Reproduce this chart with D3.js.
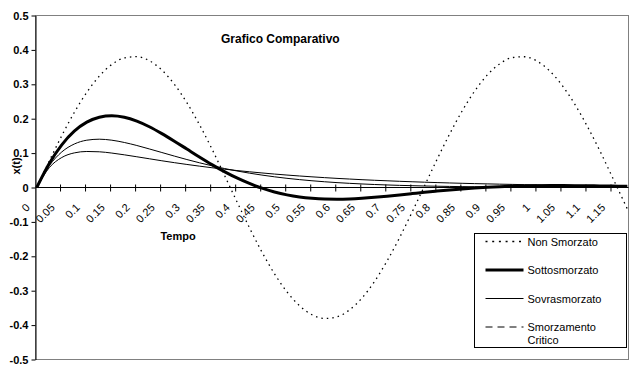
<!DOCTYPE html>
<html>
<head>
<meta charset="utf-8">
<script src="https://cdn.jsdelivr.net/npm/d3@7"></script>
<style>
  body { margin: 0; background: #fff; }
  text { font-family: Arial, "Liberation Sans", sans-serif; }
</style>
</head>
<body>
<div id="chart"></div>
<script>
/* DATA */
const tempo = [0, 0.025, 0.05, 0.075, 0.1, 0.125, 0.15, 0.175, 0.2, 0.225, 0.25, 0.275,
  0.3, 0.325, 0.35, 0.375, 0.4, 0.425, 0.45, 0.475, 0.5, 0.525, 0.55, 0.575,
  0.6, 0.625, 0.65, 0.675, 0.7, 0.725, 0.75, 0.775, 0.8, 0.825, 0.85, 0.875,
  0.9, 0.925, 0.95, 0.975, 1, 1.025, 1.05, 1.075, 1.1, 1.125, 1.15, 1.175, 1.18];

const nonSmorzato = [0, 0.0769, 0.1506, 0.2181, 0.2766, 0.3238, 0.3577, 0.3768, 0.3804, 0.3685,
  0.3414, 0.3000, 0.2465, 0.1830, 0.1123, 0.0360, -0.0412, -0.1168, -0.1876, -0.2506,
  -0.3033, -0.3437, -0.3698, -0.3807, -0.3759, -0.3557, -0.3211, -0.2730, -0.2137, -0.1458,
  -0.0717, 0.0052, 0.0820, 0.1553, 0.2223, 0.2802, 0.3266, 0.3595, 0.3776, 0.3801,
  0.3672, 0.3389, 0.2967, 0.2425, 0.1783, 0.1074, 0.0308, -0.0464, -0.0620];

const sottosmorzato = [0, 0.0697, 0.1239, 0.1636, 0.1899, 0.2043, 0.2085, 0.2041, 0.1929, 0.1766,
  0.1567, 0.1347, 0.1117, 0.0887, 0.0666, 0.0462, 0.0277, 0.0117, -0.0019, -0.0129,
  -0.0214, -0.0275, -0.0314, -0.0335, -0.0339, -0.0331, -0.0311, -0.0284, -0.0251, -0.0215,
  -0.0177, -0.0139, -0.0104, -0.0071, -0.0041, -0.0015, 0.0006, 0.0023, 0.0037, 0.0046,
  0.0050, 0.0055, 0.0055, 0.0054, 0.0050, 0.0046, 0.0040, 0.0034, 0.0033];

const sovrasmorzato = [0, 0.0576, 0.0872, 0.1006, 0.1047, 0.1038, 0.1001, 0.0950, 0.0893, 0.0835,
  0.0777, 0.0722, 0.0670, 0.0621, 0.0575, 0.0533, 0.0493, 0.0457, 0.0423, 0.0391,
  0.0362, 0.0335, 0.0310, 0.0287, 0.0265, 0.0246, 0.0227, 0.0210, 0.0195, 0.0180,
  0.0167, 0.0154, 0.0143, 0.0132, 0.0122, 0.0113, 0.0105, 0.0097, 0.0090, 0.0083,
  0.0077, 0.0071, 0.0066, 0.0061, 0.0056, 0.0052, 0.0048, 0.0045, 0.0044];

const smorzamentoCritico = [0, 0.0633, 0.1033, 0.1264, 0.1375, 0.1404, 0.1375, 0.1309, 0.1221, 0.1121,
  0.1017, 0.0913, 0.0813, 0.0719, 0.0632, 0.0552, 0.0481, 0.0417, 0.0361, 0.0311,
  0.0267, 0.0229, 0.0196, 0.0167, 0.0142, 0.0121, 0.0103, 0.0087, 0.0074, 0.0062,
  0.0053, 0.0044, 0.0037, 0.0031, 0.0026, 0.0022, 0.0019, 0.0016, 0.0013, 0.0011,
  0.0009, 0.0008, 0.0006, 0.0005, 0.0004, 0.0003, 0.0003, 0.0002, 0.0002];

const xLabels = ["0", "0.05", "0.1", "0.15", "0.2", "0.25", "0.3", "0.35", "0.4", "0.45", "0.5",
  "0.55", "0.6", "0.65", "0.7", "0.75", "0.8", "0.85", "0.9", "0.95", "1", "1.05", "1.1", "1.15"];
const yTicks = [0.5, 0.4, 0.3, 0.2, 0.1, 0, -0.1, -0.2, -0.3, -0.4, -0.5];

const seriesNames = ["Non Smorzato", "Sottosmorzato", "Sovrasmorzato", "Smorzamento Critico"];

/* CONSTANTS */
const width = 634, height = 374;
const plot = { left: 35.5, right: 628.5, top: 15.5, bottom: 359.5 };

const svg = d3.select("#chart").append("svg")
  .attr("width", width)
  .attr("height", height);

// scales (category axis: each category is 0.005 wide, points sit in the middle)
const xScale = d3.scaleLinear()
  .domain([-0.0025, 1.1825])
  .range([plot.left, plot.right]);

const yScale = d3.scaleLinear()
  .domain([-0.5, 0.5])
  .range([plot.bottom, plot.top]);

// plot area frame (grey top/right/bottom)
svg.append("rect")
  .attr("x", plot.left)
  .attr("y", plot.top)
  .attr("width", plot.right - plot.left)
  .attr("height", plot.bottom - plot.top)
  .attr("fill", "#fff")
  .attr("stroke", "#808080");

// title
svg.append("text")
  .attr("x", 221)
  .attr("y", 43)
  .attr("font-size", 12)
  .attr("font-weight", "bold")
  .text("Grafico Comparativo");

// y axis
const yAxis = d3.axisLeft(yScale)
  .tickValues(yTicks)
  .tickSize(4)
  .tickSizeOuter(0)
  .tickPadding(3)
  .tickFormat(d => String(+d.toFixed(1)));

svg.append("g")
  .attr("class", "axis y-axis")
  .attr("transform", `translate(${plot.left},0)`)
  .call(yAxis)
  .call(g => g.selectAll("text")
    .attr("font-size", 11)
    .attr("font-weight", "bold")
    .attr("font-family", "Arial, 'Liberation Sans', sans-serif")
    .attr("fill", "#000"))
  .call(g => g.selectAll("line,path").attr("stroke", "#000"));

// y label
svg.append("text")
  .attr("transform", `translate(20,166) rotate(-90)`)
  .attr("text-anchor", "middle")
  .attr("font-size", 11)
  .attr("font-weight", "bold")
  .text("x(t)");

// x axis line at 0
const y0 = yScale(0);
svg.append("line")
  .attr("x1", plot.left).attr("x2", plot.right)
  .attr("y1", y0).attr("y2", y0)
  .attr("stroke", "#000");

// tick marks on category boundaries, every 10 categories
svg.append("g")
  .selectAll("line")
  .data(d3.range(1, 24))
  .join("line")
  .attr("x1", k => xScale(0.05 * k - 0.0025))
  .attr("x2", k => xScale(0.05 * k - 0.0025))
  .attr("y1", y0 - 3)
  .attr("y2", y0 + 4)
  .attr("stroke", "#000");

// rotated category labels
svg.append("g")
  .selectAll("text")
  .data(xLabels)
  .join("text")
  .attr("transform", (d, i) => `translate(${xScale(0.05 * i) - 9},${y0 + 18}) rotate(-45)`)
  .attr("text-anchor", "end")
  .attr("dy", "0.35em")
  .attr("font-size", 11)
  .text(d => d);

// x label
svg.append("text")
  .attr("x", 178)
  .attr("y", 240)
  .attr("text-anchor", "middle")
  .attr("font-size", 11)
  .attr("font-weight", "bold")
  .text("Tempo");

/* LINES */
const lineFunc = d3.line()
  .x((d, i) => xScale(tempo[i]))
  .y(d => yScale(d))
  .curve(d3.curveMonotoneX);

const styles = [
  { data: nonSmorzato, width: 1.3, dash: "1.5,4" },
  { data: sottosmorzato, width: 3, dash: null },
  { data: sovrasmorzato, width: 1, dash: null },
  { data: smorzamentoCritico, width: 1, dash: null }
];

svg.append("g")
  .selectAll("path")
  .data(styles)
  .join("path")
  .attr("d", d => lineFunc(d.data))
  .attr("fill", "none")
  .attr("stroke", "#000")
  .attr("stroke-width", d => d.width)
  .attr("stroke-dasharray", d => d.dash);

/* LEGEND */
const legend = svg.append("g").attr("transform", "translate(474.5,233.5)");
legend.append("rect")
  .attr("width", 152)
  .attr("height", 114)
  .attr("fill", "#fff")
  .attr("stroke", "#000");

const legendItems = [
  { name: seriesNames[0], y: 8, width: 1.3, dash: "2,4.7" },
  { name: seriesNames[1], y: 36.5, width: 3, dash: null },
  { name: seriesNames[2], y: 65, width: 1, dash: null },
  { name: seriesNames[3], y: 93.5, width: 1, dash: "7,5" }
];

const item = legend.selectAll("g.item")
  .data(legendItems)
  .join("g")
  .attr("class", "item")
  .attr("transform", d => `translate(0,${d.y})`);

item.append("line")
  .attr("x1", 11).attr("x2", 49)
  .attr("stroke", "#000")
  .attr("stroke-width", d => d.width)
  .attr("stroke-dasharray", d => d.dash);

item.append("text")
  .attr("x", 53)
  .attr("y", 4)
  .attr("font-size", 11)
  .each(function(d) {
    const words = d.name === "Smorzamento Critico" ? ["Smorzamento", "Critico"] : [d.name];
    d3.select(this).selectAll("tspan")
      .data(words)
      .join("tspan")
      .attr("x", 53)
      .attr("dy", (w, i) => i === 0 ? 0 : 12.5)
      .text(w => w);
  });
</script>
</body>
</html>
